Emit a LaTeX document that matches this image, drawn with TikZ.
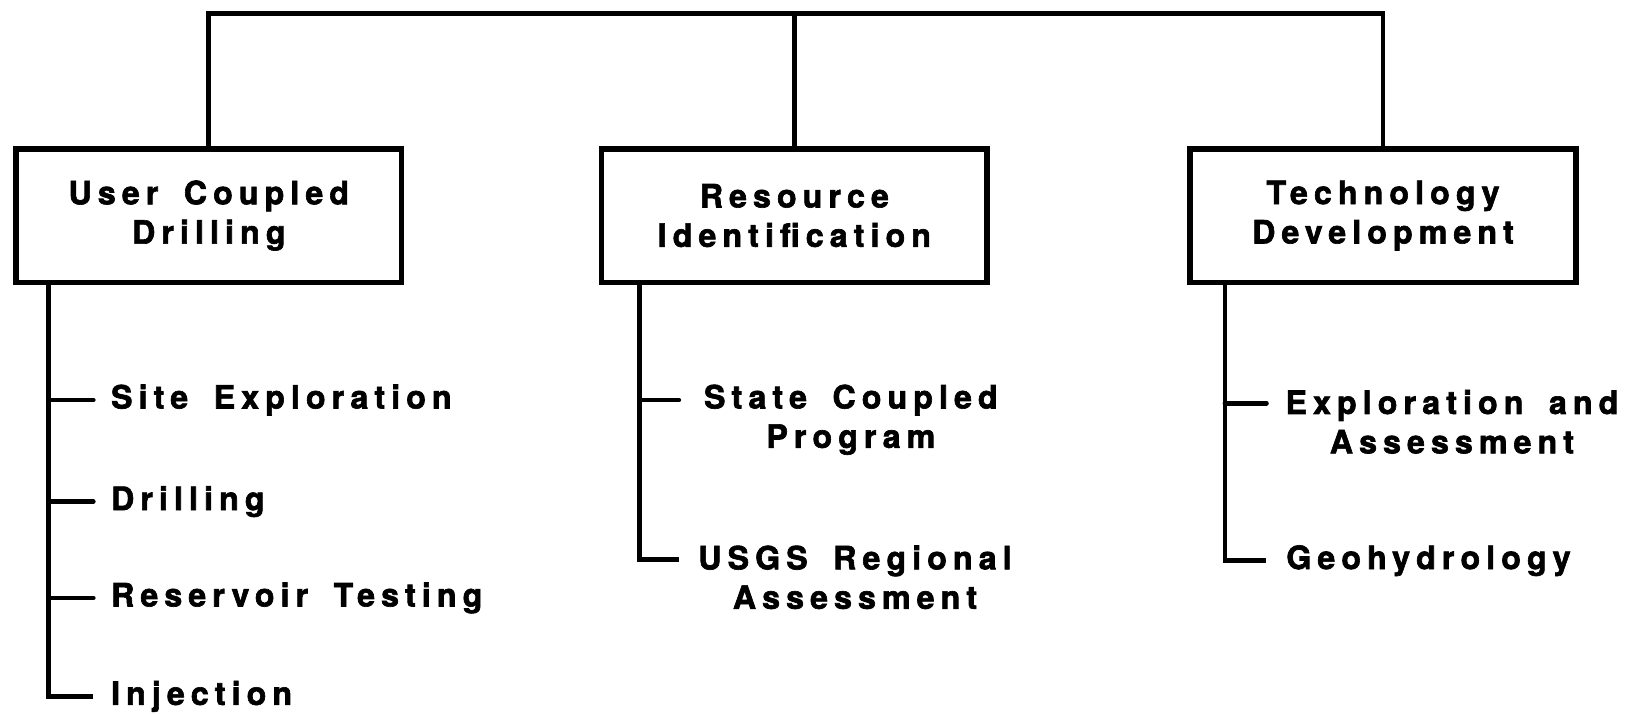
\documentclass[tikz,border=0pt]{standalone}
\usepackage{fontspec}
\setmainfont{TeX Gyre Heros}[LetterSpace=19, WordSpace=1.7, BoldFeatures={FakeBold=2}]
\begin{document}
\begin{tikzpicture}[x=1pt,y=-1pt,
  every node/.style={font=\fontsize{31}{38}\selectfont\bfseries, inner sep=0pt},
  unit/.style={draw, line width=5.5pt, rectangle, minimum width=372pt, minimum height=129pt, align=center},
  item/.style={anchor=west},
  pair/.style={align=center},
  conn/.style={line width=4.6pt},
  tick/.style={line width=4.6pt, line cap=round}
]
\useasboundingbox (0,0) rectangle (1568,688);

% top-level units
\node[unit] (b1) at (201.5,208) {User Coupled\\Drilling};
\node[unit] (b2) at (766.5,208) {Resource\\Identification};
\node[unit] (b3) at (1334.5,208) {Technology\\Development};

% common bus across the top
\coordinate (top) at (766.5,13);
\draw[conn] (b1.north) |- (top) -| (b3.north);
\draw[conn] (b2.north) -- (top);

% User Coupled Drilling
\coordinate (v1) at (47,0);
\node[item] (l11) at (107,386) {Site Exploration};
\node[item] (l12) at (107,484) {Drilling};
\node[item] (l13) at (107,577) {Reservoir Testing};
\node[item] (l14) at (107,672) {Injection};
\draw[conn] (b1.south -| v1) |- ([xshift=-17pt]l14.west);
\foreach \n in {l11,l12,l13}
  \draw[tick] (v1 |- \n.west) -- ([xshift=-17pt]\n.west);

% Resource Identification
\coordinate (v2) at (617,0);
\coordinate (k21) at (655,386);
\coordinate (k22) at (655,540);
\node[pair] (l21) at (821,405) {State Coupled\\Program};
\node[pair] (l22) at (825,557) {USGS Regional\\Assessment};
\draw[conn] (b2.south -| v2) |- (k22);
\draw[tick] (v2 |- k21) -- (k21);

% Technology Development
\coordinate (v3) at (1182,0);
\coordinate (k31) at (1222,389);
\node[pair] (l31) at (1401,407) {Exploration and\\Assessment};
\node[item] (l32) at (1241,541) {Geohydrology};
\draw[conn] (b3.south -| v3) |- ([xshift=-19pt]l32.west);
\draw[tick] (v3 |- k31) -- (k31);
\end{tikzpicture}
\end{document}
